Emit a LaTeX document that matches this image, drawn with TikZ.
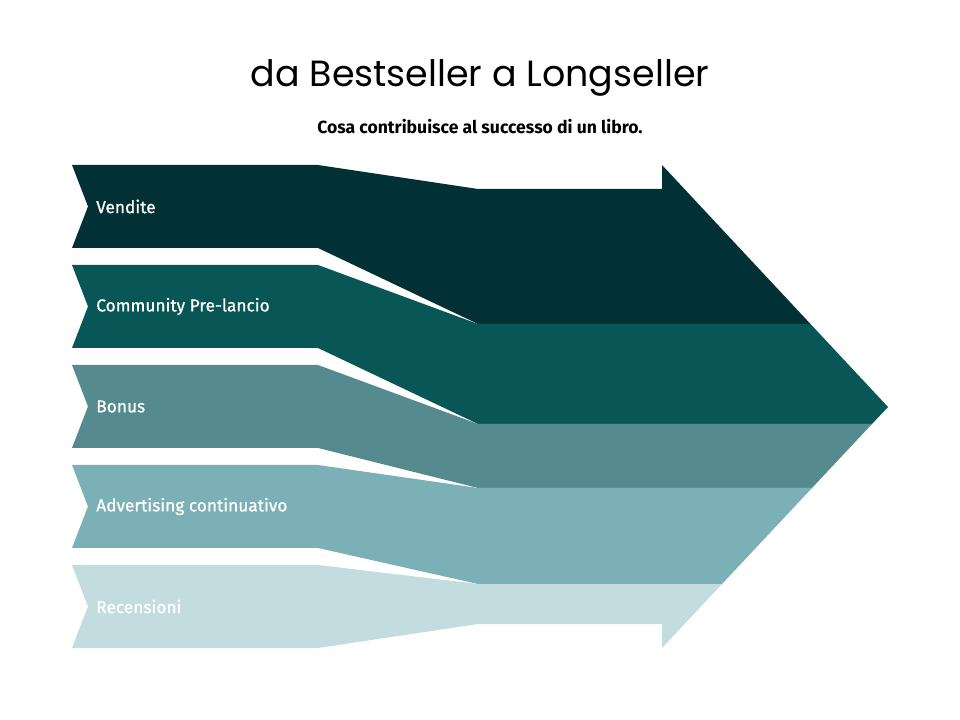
\documentclass[tikz,border=0pt]{standalone}
\usepackage{fontspec}
\setmainfont{Fira Sans}
\newfontfamily\titlefont{Poppins}
\newfontfamily\labelfont[FakeBold=0.8]{Fira Sans}
\usepackage{tikz}

\definecolor{bandA}{HTML}{023135}
\definecolor{bandB}{HTML}{085656}
\definecolor{bandC}{HTML}{558A8F}
\definecolor{bandD}{HTML}{7BB0B6}
\definecolor{bandE}{HTML}{C2DCDF}

\tikzset{
  bandlabel/.style={anchor=west, text=white, font=\labelfont\fontsize{12.3}{14}\selectfont, inner sep=0pt},
}

\begin{document}
\begin{tikzpicture}[x=0.025cm, y=-0.025cm]
			\useasboundingbox (0,0) rectangle (960,720);
			\node (title) at (480,78) {\titlefont\fontsize{25.9}{30}\selectfont da Bestseller a Longseller};
			\node (subtitle) at (480,127) {\bfseries\fontsize{12.5}{15}\selectfont Cosa contribuisce al successo di un libro.};
			\fill[bandA] (72,165) -- (318,165) -- (478,189) -- (662,189) -- (662,165) -- (810.5,324) -- (478,324) -- (318,248) -- (72,248) -- (88,206.5) -- cycle;
			\fill[bandB] (72,265) -- (318,265) -- (478,324) -- (810.5,324) -- (888,407) -- (872,424) -- (478,424) -- (318,348) -- (72,348) -- (88,306.5) -- cycle;
			\fill[bandC] (72,365) -- (318,365) -- (478,424) -- (872,424) -- (812,488) -- (478,488) -- (318,448) -- (72,448) -- (88,406.5) -- cycle;
			\fill[bandD] (72,465) -- (318,465) -- (478,488) -- (812,488) -- (722,584) -- (478,584) -- (318,548) -- (72,548) -- (88,506.5) -- cycle;
			\fill[bandE] (72,565) -- (318,565) -- (478,584) -- (722,584) -- (662,648) -- (662,624) -- (478,624) -- (318,648) -- (72,648) -- (88,606.5) -- cycle;
			\node[bandlabel] (vendite) at (96,206.5) {Vendite};
			\node[bandlabel] (community) at (96,306.5) {Community Pre-lancio};
			\node[bandlabel] (bonus) at (96,406.5) {Bonus};
			\node[bandlabel] (advertising) at (96,506.5) {Advertising continuativo};
			\node[bandlabel] (recensioni) at (96,606.5) {Recensioni};
			\end{tikzpicture}
\end{document}
